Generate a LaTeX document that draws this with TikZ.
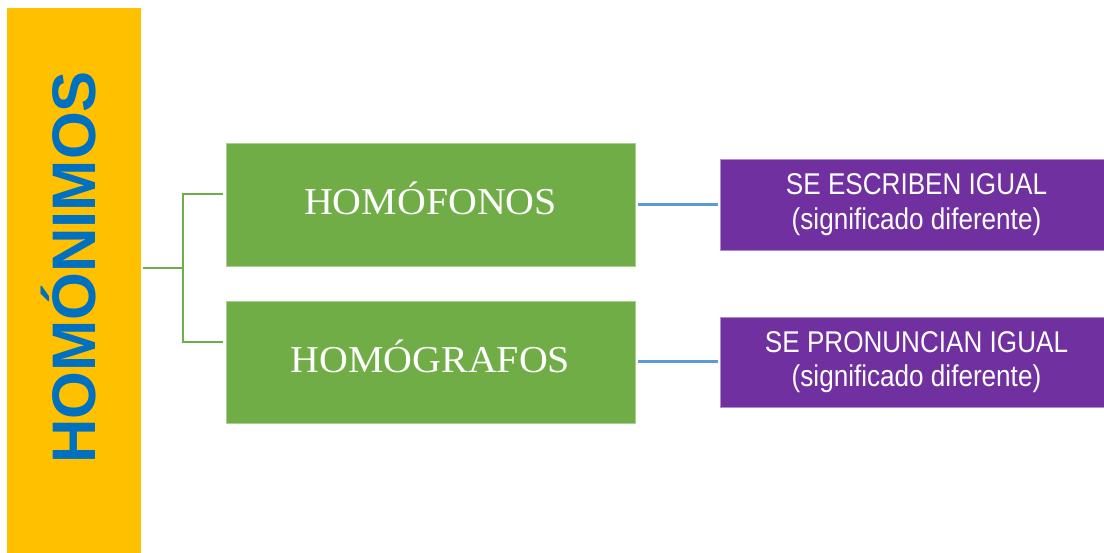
\documentclass[tikz,border=0pt]{standalone}
\usepackage{fontspec}
\setmainfont{Liberation Serif}
\newfontfamily\titlefont{Liberation Sans}
\newfontfamily\narrowsans[FakeStretch=0.87]{Liberation Sans}
\newfontfamily\serifwide[FakeStretch=1.05]{Liberation Serif}
\definecolor{barYellow}{HTML}{FFC000}
\definecolor{titleBlue}{HTML}{0070C0}
\definecolor{boxGreen}{HTML}{70AD47}
\definecolor{lineBlue}{HTML}{5B9BD5}
\definecolor{boxPurple}{HTML}{7030A0}
\tikzset{
  greenbox/.style={fill=boxGreen, draw=boxGreen!60!white, line width=0.8pt, minimum width=409pt, minimum height=123pt, inner sep=0pt, text height=25pt, text depth=4pt, text=white, font=\serifwide\fontsize{38}{40}\selectfont},
  purplebox/.style={fill=boxPurple, draw=boxPurple!55!white, line width=0.8pt, minimum width=393pt, minimum height=91pt, inner sep=0pt, text=white, align=center, font=\narrowsans\fontsize{30}{34.5}\selectfont},
  greenline/.style={draw=boxGreen, line width=2pt},
  blueline/.style={draw=lineBlue, line width=3pt}
}
\begin{document}
\begin{tikzpicture}[x=1pt,y=-1pt]
\useasboundingbox (0,0) rectangle (1104,553);
\node[fill=barYellow, minimum width=134pt, minimum height=545pt, inner sep=0pt] (bar) at (74,280.5) {};
\node[rotate=90, anchor=base, inner sep=0pt, text=titleBlue, font=\titlefont\bfseries\fontsize{61.5}{62}\selectfont] (title) at (95,267.5) {HOMÓNIMOS};
\node[greenbox] (g1) at (430.5,204.5) {HOMÓFONOS};
\node[greenbox, minimum height=122pt] (g2) at (430.5,362) {HOMÓGRAFOS};
\node[purplebox] (p1) at (916.5,204.5) {SE ESCRIBEN IGUAL\\(significado diferente)};
\node[purplebox, minimum height=90pt] (p2) at (916.5,362) {SE PRONUNCIAN IGUAL\\(significado diferente)};
\coordinate (j) at (183,268);
\draw[greenline] ([xshift=2pt]bar.east |- j) -- (j);
\draw[greenline] ([xshift=-3pt,yshift=10.5pt]g1.west) -| (j) |- ([xshift=-3pt,yshift=20pt]g2.west);
\draw[blueline] ([xshift=3pt]g1.east) -- ([xshift=-2pt]p1.west);
\draw[blueline] ([xshift=3pt]g2.east) -- ([xshift=-2pt]p2.west);
\end{tikzpicture}
\end{document}
